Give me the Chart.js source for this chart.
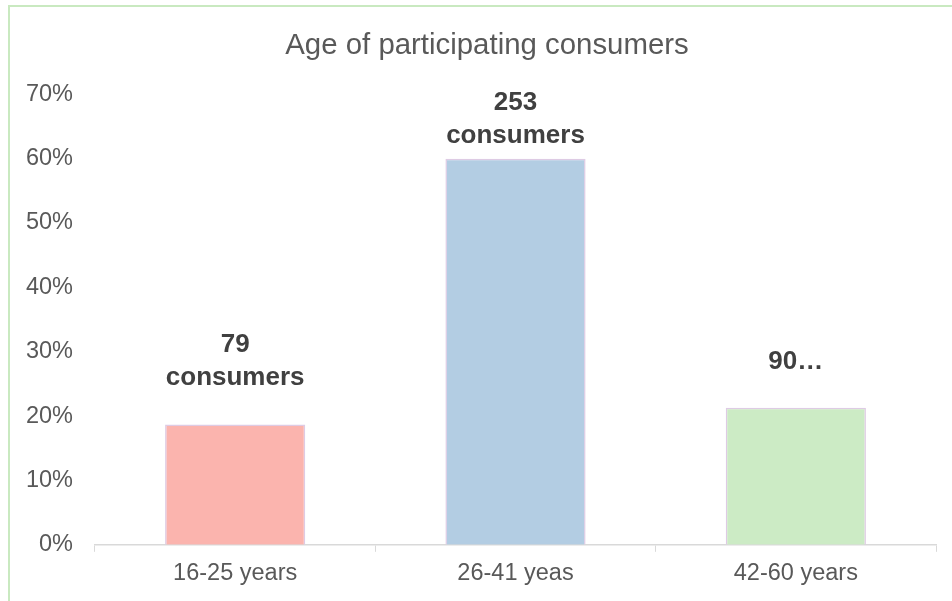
<!DOCTYPE html>
<html>
<head>
<meta charset="utf-8">
<script src="https://cdn.jsdelivr.net/npm/chart.js@4"></script>
<style>
    html, body { margin: 0; padding: 0; background: #fff; overflow: hidden; }
    #frame {
        position: absolute;
        left: 8px;
        top: 5px;
        width: 956px;
        height: 600px;
        border-left: 2px solid #c9e9c0;
        border-top: 2px solid #c9e9c0;
    }
</style>
</head>
<body>
<div id="frame"><canvas id="age-chart" width="956" height="600"></canvas></div>
<script>
// Chart data
const categories = ["16-25 years", "26-41 yeas", "42-60 years"];
const shares = [18.7, 60.0, 21.3];
const labelLines = [["79", "consumers"], ["253", "consumers"], ["90…"]];
const barColors = ["#fbb4ae", "#b3cde3", "#ccebc5"];
const yTicks = [0, 10, 20, 30, 40, 50, 60, 70];

const FONT = "'Liberation Sans', Arial, sans-serif";

// Bold value labels above the bars, kept inside the plot top
const barLabels = {
    id: "barLabels",
    beforeDraw(chart) {
        // y axis is narrowed in afterFit; don't clip its labels
        chart.scales.y.left = 0;
    },
    afterDatasetsDraw(chart) {
        const { ctx, chartArea } = chart;
        const meta = chart.getDatasetMeta(0);
        const lineH = 33;
        const capH = 19;
        ctx.save();
        ctx.font = "bold 26px " + FONT;
        ctx.fillStyle = "#404040";
        ctx.textAlign = "center";
        ctx.textBaseline = "alphabetic";
        meta.data.forEach((bar, i) => {
            const lines = labelLines[i];
            let last = bar.y - 39;
            const topY = last - (lines.length - 1) * lineH - capH;
            if (topY < chartArea.top - 3) last += chartArea.top - 3 - topY;
            lines.forEach((t, j) => {
                ctx.fillText(t, bar.x, last - (lines.length - 1 - j) * lineH);
            });
        });
        ctx.restore();
    },
};

new Chart(document.getElementById("age-chart"), {
    type: "bar",
    data: {
        labels: categories,
        datasets: [
            {
                data: shares,
                backgroundColor: barColors,
                borderColor: "#decbe4",
                borderWidth: 1.5,
                barPercentage: 0.5,
                categoryPercentage: 1,
            },
        ],
    },
    options: {
        responsive: false,
        animation: false,
        layout: { padding: { left: 28, right: 30, top: 0, bottom: 11 } },
        plugins: {
            legend: { display: false },
            tooltip: { enabled: false },
            title: {
                display: true,
                text: "Age of participating consumers",
                color: "#595959",
                font: { family: FONT, size: 29.4, weight: "normal" },
                padding: { top: 21, bottom: 31 },
            },
        },
        scales: {
            x: {
                grid: {
                    display: true,
                    drawOnChartArea: false,
                    color: "#d9d9d9",
                    tickLength: 7,
                    offset: true,
                },
                border: { display: true, color: "#d9d9d9", width: 1.5 },
                ticks: {
                    color: "#595959",
                    font: { family: FONT, size: 23.5 },
                    padding: 8,
                },
            },
            y: {
                min: 0,
                max: 70,
                afterBuildTicks: (axis) => {
                    axis.ticks = yTicks.map((v) => ({ value: v }));
                },
                afterFit: (axis) => {
                    axis.width = 57;
                },
                grid: { display: false, drawTicks: false },
                border: { display: false },
                ticks: {
                    color: "#595959",
                    font: { family: FONT, size: 23.5 },
                    padding: 22,
                    callback: (v) => v + "%",
                },
            },
        },
    },
    plugins: [barLabels],
});
</script>
</body>
</html>
